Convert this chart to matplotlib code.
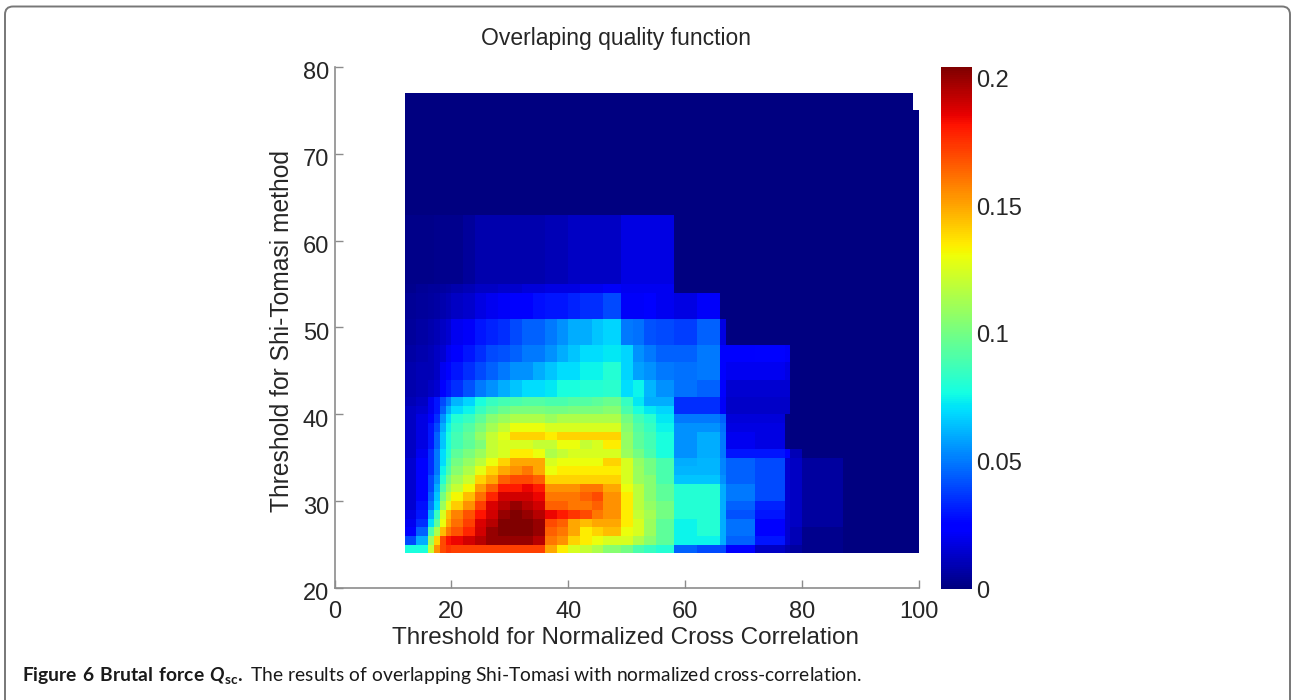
import numpy as np
import matplotlib
matplotlib.use('Agg')
import matplotlib.pyplot as plt
from matplotlib.patches import FancyBboxPatch
from matplotlib.transforms import IdentityTransform, ScaledTranslation

# cell edges of the surface, uneven where the picture has big flat blocks
x_edges = [12, 14, 16, 17, 18, 19, 20, 22, 24, 26, 28, 30, 32, 34, 36, 38, 40, 42, 44, 46,
           49, 51, 53, 55, 58, 62, 66, 67, 72, 77, 78, 80, 87, 99, 100]
y_edges = [24, 25, 26, 27, 28, 29, 30, 31, 32, 33, 34, 35, 36, 37, 38, 39, 40, 41, 42, 44,
           46, 48, 51, 54, 55, 63, 75, 77]

# quality values, in thousandths, bottom row first
# rows stop at the last non zero column, the rest is zero
quality_rows = [
    [78, 78, 120, 155, 170, 175, 172, 172, 172, 172, 172, 172, 172, 172, 150, 135, 125, 120, 115, 105, 100, 90, 85, 80, 45, 40, 40, 25, 12, 8, 6, 3],
    [40, 60, 110, 140, 170, 182, 185, 190, 195, 200, 200, 200, 200, 195, 160, 155, 140, 135, 130, 125, 125, 115, 105, 95, 75, 75, 60, 45, 30, 15, 10, 3],
    [25, 45, 90, 115, 145, 160, 168, 178, 190, 200, 205, 205, 205, 200, 165, 160, 150, 135, 140, 145, 130, 125, 110, 95, 75, 80, 60, 48, 25, 15, 10, 3],
    [20, 35, 70, 95, 130, 150, 162, 172, 188, 195, 205, 205, 205, 200, 170, 165, 150, 145, 150, 150, 135, 125, 110, 95, 75, 80, 60, 48, 25, 15, 12, 6],
    [18, 30, 60, 85, 125, 145, 158, 168, 182, 190, 200, 205, 200, 195, 185, 180, 175, 170, 160, 155, 135, 120, 112, 100, 80, 80, 60, 42, 30, 15, 12, 6],
    [15, 28, 50, 70, 110, 128, 142, 155, 172, 188, 195, 200, 195, 190, 165, 165, 160, 160, 165, 155, 135, 118, 108, 100, 80, 80, 60, 45, 32, 15, 12, 6],
    [15, 25, 45, 65, 100, 118, 132, 145, 162, 178, 190, 190, 190, 185, 160, 160, 160, 165, 170, 155, 135, 118, 105, 95, 80, 80, 60, 50, 40, 15, 12, 6],
    [15, 25, 40, 60, 90, 108, 120, 132, 152, 165, 180, 180, 185, 180, 155, 155, 155, 160, 160, 150, 130, 118, 105, 95, 80, 80, 60, 50, 40, 15, 12, 6],
    [15, 25, 40, 55, 80, 100, 112, 122, 140, 150, 165, 170, 170, 165, 140, 140, 140, 140, 140, 140, 125, 110, 105, 90, 65, 65, 55, 45, 40, 15, 12, 6],
    [15, 25, 35, 50, 75, 90, 105, 115, 128, 140, 150, 155, 160, 150, 130, 135, 135, 135, 135, 135, 125, 110, 100, 90, 62, 62, 52, 45, 40, 15, 12, 6],
    [15, 25, 35, 50, 70, 85, 100, 108, 118, 130, 140, 150, 150, 150, 125, 130, 130, 130, 130, 140, 125, 108, 100, 90, 60, 62, 52, 45, 40, 15, 12, 6],
    [12, 20, 35, 50, 70, 80, 95, 102, 110, 120, 125, 135, 135, 130, 115, 120, 125, 125, 125, 125, 110, 100, 90, 78, 55, 60, 50, 30, 30, 25, 10],
    [12, 18, 30, 45, 65, 78, 88, 95, 103, 120, 125, 125, 125, 120, 120, 130, 130, 120, 125, 135, 108, 95, 88, 78, 55, 60, 50, 20, 18],
    [12, 18, 30, 45, 65, 78, 88, 96, 108, 120, 128, 140, 140, 140, 135, 140, 140, 140, 140, 140, 108, 95, 88, 78, 55, 60, 50, 20, 18],
    [12, 18, 30, 40, 60, 75, 85, 92, 102, 112, 120, 130, 130, 130, 125, 125, 125, 125, 125, 125, 105, 92, 85, 75, 55, 55, 48, 18, 18],
    [12, 18, 25, 35, 55, 70, 80, 85, 95, 105, 110, 115, 115, 115, 110, 115, 115, 115, 115, 115, 100, 88, 82, 72, 50, 50, 45, 16, 16],
    [12, 15, 20, 30, 45, 60, 70, 75, 85, 92, 98, 102, 102, 102, 100, 100, 102, 102, 102, 105, 90, 78, 72, 68, 35, 35, 22, 13, 13, 13],
    [10, 12, 20, 30, 40, 50, 62, 68, 78, 85, 88, 90, 92, 92, 90, 90, 92, 92, 95, 98, 85, 72, 60, 60, 35, 35, 22, 13, 13, 13],
    [8, 10, 12, 15, 25, 30, 35, 42, 50, 55, 60, 65, 70, 70, 72, 78, 78, 80, 80, 82, 70, 75, 62, 55, 48, 45, 25, 15, 15, 15],
    [8, 10, 10, 12, 20, 25, 30, 35, 40, 45, 50, 55, 55, 60, 65, 70, 70, 75, 75, 80, 68, 58, 55, 50, 48, 50, 25, 20, 20, 18],
    [7, 8, 10, 12, 15, 20, 25, 30, 35, 40, 42, 45, 50, 50, 55, 60, 65, 70, 70, 72, 68, 55, 50, 45, 45, 50, 25, 24, 26, 22],
    [5, 7, 8, 10, 12, 15, 20, 22, 30, 32, 35, 40, 45, 45, 50, 55, 60, 60, 65, 68, 50, 48, 42, 40, 38, 45, 18],
    [4, 5, 6, 7, 8, 10, 12, 14, 18, 20, 22, 25, 25, 28, 30, 30, 32, 35, 35, 40, 22, 22, 24, 20, 18, 22],
    [3, 4, 5, 5, 6, 7, 8, 10, 12, 12, 14, 14, 16, 16, 18, 18, 18, 20, 20, 22, 20, 20, 20, 20],
    [2, 2, 2, 3, 3, 3, 3, 5, 8, 8, 8, 8, 8, 8, 10, 10, 12, 12, 12, 12, 18, 18, 18, 18],
    [],
    [],
]
x_ticks = [0, 20, 40, 60, 80, 100]
y_ticks = [20, 30, 40, 50, 60, 70, 80]
cbar_ticks = [0, 0.05, 0.1, 0.15, 0.2]
cbar_labels = ['0', '0.05', '0.1', '0.15', '0.2']

W, H = 1291, 700


def ax_box(left, top, right, bottom):
    return [left / W, 1 - bottom / H, (right - left) / W, (bottom - top) / H]


plt.rcParams['font.family'] = ['Liberation Sans', 'DejaVu Sans']
plt.rcParams['mathtext.fontset'] = 'custom'
plt.rcParams['mathtext.bf'] = 'Lato:bold'
plt.rcParams['mathtext.bfit'] = 'Lato:italic:bold'
plt.rcParams['mathtext.rm'] = 'Lato'

text_col = '#262626'
axis_col = '#8c8c8c'

n_cols = len(x_edges) - 1
quality = np.zeros((len(y_edges) - 1, n_cols))
for i, row in enumerate(quality_rows):
    quality[i, :len(row)] = np.array(row) / 1000
# the top right corner of the surface is cut out
quality = np.ma.array(quality)
quality[-1, -1] = np.ma.masked

fig = plt.figure(figsize=(W / 100, H / 100), dpi=100)

# rounded frame, its lower edge runs off the picture
frame = FancyBboxPatch((5, -20), 1285, 713.5, boxstyle='round,pad=0,rounding_size=8',
                       transform=IdentityTransform(), fc='none', ec='#777777', lw=1.4, zorder=-1)
fig.add_artist(frame)

ax = fig.add_axes(ax_box(334.5, 67, 919, 588))
ax.patch.set_alpha(0)
mesh = ax.pcolormesh(x_edges, y_edges, quality, cmap='jet', vmin=0, vmax=0.2047, rasterized=True)
ax.set_xlim(0, 100)
ax.set_ylim(20, 80)
ax.set_xticks(x_ticks)
ax.set_yticks(y_ticks)
ax.tick_params(axis='both', direction='in', length=6, width=1, color=axis_col,
               labelsize=17, labelcolor=text_col)
ax.tick_params(axis='x', top=False, pad=9)
ax.tick_params(axis='y', right=False, pad=4)
# y labels sit a little under their ticks in the original
shift = ScaledTranslation(0, -4 / 100, fig.dpi_scale_trans)
for lab in ax.get_yticklabels():
    lab.set_transform(lab.get_transform() + shift)
ax.spines['top'].set_visible(False)
ax.spines['right'].set_visible(False)
ax.spines['left'].set_color(axis_col)
ax.spines['bottom'].set_color(axis_col)
ax.spines['left'].set_linewidth(1.2)
ax.spines['bottom'].set_linewidth(1.2)

fig.text(616 / W, 1 - 38 / H, 'Overlaping quality function', ha='center', va='center',
         fontsize=16.5, color=text_col)
fig.text(626 / W, 1 - 638 / H, 'Threshold for Normalized Cross Correlation', ha='center', va='center',
         fontsize=17.5, color=text_col)
fig.text(282 / W, 1 - 331 / H, 'Threshold for Shi-Tomasi method', ha='center', va='center',
         rotation=90, fontsize=17.7, color=text_col)

cax = fig.add_axes(ax_box(941, 67, 972, 589))
cb = fig.colorbar(mesh, cax=cax)
cb.set_ticks(cbar_ticks)
cb.set_ticklabels(cbar_labels)
cb.ax.tick_params(length=0, pad=3, labelsize=17, labelcolor=text_col)
cb.outline.set_visible(False)

caption = (r'$\mathbf{Figure\ 6\ Brutal\ force\ }\mathbfit{Q}_{\mathbf{sc}}\mathbf{.}$'
           ' The results of overlapping Shi-Tomasi with normalized cross-correlation.')
fig.text(22 / W, 1 - 676 / H, caption, ha='left', va='center', fontsize=13.85,
         family='Lato', color='#1a1a1a')

fig.savefig('out.png', dpi=100)
